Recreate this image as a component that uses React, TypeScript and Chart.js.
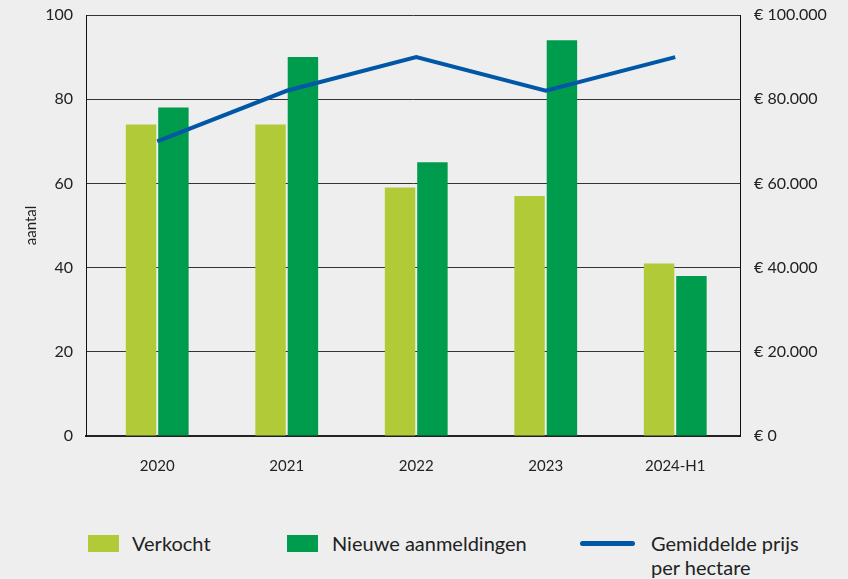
import React, { useEffect, useRef } from 'react';
import { Chart, registerables } from 'chart.js';

Chart.register(...registerables);

const categories = ['2020', '2021', '2022', '2023', '2024-H1'];
const verkocht = [74, 74, 59, 57, 41];
const nieuweAanmeldingen = [78, 90, 65, 94, 38];
const gemiddeldePrijs = [70000, 82000, 90000, 82000, 90000];
const leftMax = 100;
const leftStep = 20;
const rightMax = 100000;
const rightStep = 20000;

const FONT = 'Lato, "Noto Sans", sans-serif';
const TEXT = '#222222';
const LIGHT_GREEN = '#b0cb37';
const DARK_GREEN = '#009c4e';
const BLUE = '#0057a6';

function euro(v: number): string {
  return '€ ' + String(Math.round(v)).replace(/\B(?=(\d{3})+(?!\d))/g, '.');
}

const toPoints = (arr: number[]) => arr.map((y, i) => ({ x: i, y }));

export default function App() {
  const ref = useRef<HTMLCanvasElement | null>(null);

  useEffect(() => {
    if (!ref.current) return;
    const chart = new Chart(ref.current, {
      type: 'bar',
      data: {
        datasets: [
          {
            type: 'line',
            label: 'Gemiddelde prijs per hectare',
            data: toPoints(gemiddeldePrijs),
            yAxisID: 'y1',
            borderColor: BLUE,
            backgroundColor: BLUE,
            borderWidth: 4,
            pointRadius: 0,
            tension: 0,
            order: 0,
          } as any,
          {
            label: 'Verkocht',
            data: toPoints(verkocht),
            yAxisID: 'y',
            backgroundColor: LIGHT_GREEN,
            barPercentage: 0.94,
            categoryPercentage: 0.5,
            order: 1,
          },
          {
            label: 'Nieuwe aanmeldingen',
            data: toPoints(nieuweAanmeldingen),
            yAxisID: 'y',
            backgroundColor: DARK_GREEN,
            barPercentage: 0.94,
            categoryPercentage: 0.5,
            order: 1,
          },
        ],
      },
      options: {
        animation: false,
        responsive: false,
        maintainAspectRatio: false,
        layout: { padding: { left: 22, top: 15, right: 0, bottom: 0 } },
        plugins: { legend: { display: false }, tooltip: { enabled: false } },
        scales: {
          x: {
            type: 'linear',
            min: -0.55,
            max: 4.5,
            offset: false,
            grid: { display: false, drawTicks: false },
            border: { display: true, color: '#222222', width: 2 },
            ticks: {
              color: TEXT,
              font: { family: FONT, size: 15 },
              padding: 21,
              callback: (v: any) => categories[Number(v)] ?? '',
            },
            afterBuildTicks: (s: any) => {
              s.ticks = categories.map((_, i) => ({ value: i }));
            },
            afterFit: (s: any) => { s.height = 64; },
          },
          y: {
            position: 'left',
            min: 0,
            max: leftMax,
            ticks: { stepSize: leftStep, color: TEXT, font: { family: FONT, size: 16 }, padding: 13 },
            grid: { color: '#333333', lineWidth: 1, drawTicks: false },
            border: { display: true, color: '#111111', width: 1 },
            title: { display: true, text: 'aantal', color: TEXT, font: { family: FONT, size: 15 }, padding: 0 },
            afterFit: (s: any) => { s.width = 64; s.paddingTop = 8; s.paddingBottom = 8; },
          },
          y1: {
            position: 'right',
            min: 0,
            max: rightMax,
            ticks: {
              stepSize: rightStep,
              color: TEXT,
              font: { family: FONT, size: 16 },
              padding: 14,
              callback: (v: any) => euro(Number(v)),
            },
            grid: { display: false, drawTicks: false },
            border: { display: true, color: '#111111', width: 1 },
            afterFit: (s: any) => { s.width = 108; s.paddingTop = 8; s.paddingBottom = 8; },
          },
        },
      },
    });
    return () => chart.destroy();
  }, []);

  const legendText: React.CSSProperties = {
    position: 'absolute',
    fontFamily: FONT,
    fontSize: 20,
    color: TEXT,
    lineHeight: '24px',
    whiteSpace: 'nowrap',
  };

  return (
    <div style={{ position: 'absolute', left: 0, top: 0, width: 848, height: 579, background: '#eeeeee', overflow: 'hidden' }}>
      <canvas ref={ref} width={848} height={500} style={{ position: 'absolute', left: 0, top: 0, width: 848, height: 500 }} />
      <div style={{ position: 'absolute', left: 88, top: 535, width: 31, height: 17, background: LIGHT_GREEN }} />
      <div style={{ ...legendText, left: 132, top: 531 }}>Verkocht</div>
      <div style={{ position: 'absolute', left: 287, top: 535, width: 31, height: 17, background: DARK_GREEN }} />
      <div style={{ ...legendText, left: 332, top: 531 }}>Nieuwe aanmeldingen</div>
      <div style={{ position: 'absolute', left: 580, top: 541, width: 55, height: 5, borderRadius: 3, background: BLUE }} />
      <div style={{ ...legendText, left: 651, top: 531, whiteSpace: 'normal', width: 190 }}>
        Gemiddelde prijs<br />per hectare
      </div>
    </div>
  );
}
